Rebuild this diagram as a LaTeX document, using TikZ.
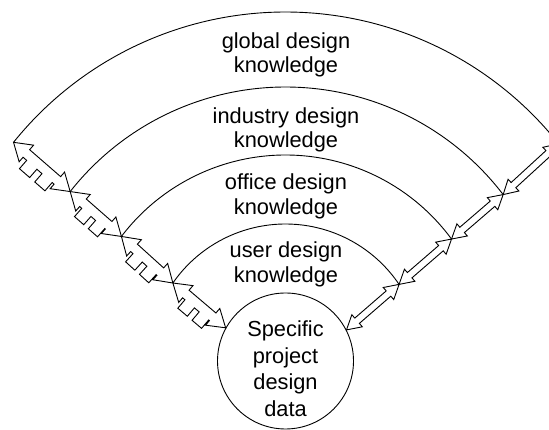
\documentclass[tikz,border=0pt]{standalone}
\usepackage{fontspec}
\setmainfont{Liberation Sans}
\usetikzlibrary{calc}

% point along a connector, pushed sideways (\n1 = its direction)
\newcommand{\fromA}[3]{($(\tikztostart)!#1!(\tikztotarget)+(\n1+#3:#2)$)}
\newcommand{\fromB}[3]{($(\tikztotarget)!#1!(\tikztostart)+(\n1+#3:#2)$)}

\tikzstyle{ring} = [line width=0.9pt]
\tikzstyle{ringtext} = [align=center, inner sep=0pt, font=\fontsize{21.8}{24.3}\selectfont]
\tikzstyle{core} = [circle, draw, line width=0.9pt, minimum size=136pt, inner sep=0pt, align=center, font=\fontsize{21.8}{26.5}\selectfont]
\tikzset{
  dblarrow/.style={draw, fill=white, line width=0.9pt, line join=miter, to path={
    let \p1=($(\tikztotarget)-(\tikztostart)$), \n1={atan2(\y1,\x1)} in
    -- \fromA{14pt}{8pt}{90} -- \fromA{14pt}{3.5pt}{90}
    -- \fromB{14pt}{3.5pt}{90} -- \fromB{14pt}{8pt}{90}
    -- (\tikztotarget)
    -- \fromB{14pt}{8pt}{-90} -- \fromB{14pt}{3.5pt}{-90}
    -- \fromA{14pt}{3.5pt}{-90} -- \fromA{14pt}{8pt}{-90}
    -- cycle}},
  teearrow/.style={draw, fill=white, line width=0.9pt, line join=miter, to path={
    let \p1=($(\tikztotarget)-(\tikztostart)$), \n1={atan2(\y1,\x1)} in
    -- \fromA{17pt}{11pt}{90} -- \fromA{17pt}{5pt}{90}
    -- \fromB{17pt}{5pt}{90} -- \fromB{17pt}{11pt}{90}
    -- (\tikztotarget)
    -- \fromB{17pt}{11pt}{-90} -- \fromB{17pt}{5pt}{-90}
    % two tabs on the lower side
    -- \fromA{0.74}{5pt}{-90} -- \fromA{0.74}{16pt}{-90}
    -- \fromA{0.56}{16pt}{-90} -- \fromA{0.56}{5pt}{-90}
    -- \fromA{0.47}{5pt}{-90} -- \fromA{0.47}{16pt}{-90}
    -- \fromA{0.29}{16pt}{-90} -- \fromA{0.29}{5pt}{-90}
    -- \fromA{17pt}{5pt}{-90} -- \fromA{17pt}{11pt}{-90}
    -- cycle}}
}

\begin{document}
\begin{tikzpicture}[x=1pt, y=1pt]
    \clip (0,0) rectangle (549,430);

    \coordinate (ctr) at (285.5,69);
    \coordinate (gleft)  at ($(ctr)+(141.2:349)$);
    \coordinate (gright) at ($(ctr)+(38.5:349)$);
    \coordinate (ileft)  at ($(ctr)+(141.8:274)$);
    \coordinate (iright) at ($(ctr)+(37.4:274)$);
    \coordinate (oleft)  at ($(ctr)+(142.8:206)$);
    \coordinate (oright) at ($(ctr)+(36.3:206)$);
    \coordinate (uleft)  at ($(ctr)+(145.3:137)$);
    \coordinate (uright) at ($(ctr)+(34:137)$);

    % knowledge rings
    \draw[ring] (gleft) arc[start angle=141.2, end angle=38.5, radius=349];
    \draw[ring] (ileft) arc[start angle=141.8, end angle=37.4, radius=274];
    \draw[ring] (oleft) arc[start angle=142.8, end angle=36.3, radius=206];
    \draw[ring] (uleft) arc[start angle=145.3, end angle=34, radius=137];

    \node[ringtext] (global) at (286,375) {global design\\knowledge};
    \node[ringtext] (industry) at (286,300) {industry design\\knowledge};
    \node[ringtext] (office) at (286,233.5) {office design\\knowledge};
    \node[ringtext] (user) at (286,165.5) {user design\\knowledge};

    \node[core] (data) at (ctr) {\rule{0pt}{31pt}Specific\\project\\design\\data};

    \foreach \a/\b in {gleft/ileft, ileft/oleft, oleft/uleft, uleft/data.151}
        \draw[teearrow] (\a) to (\b);
    \foreach \a/\b in {gright/iright, iright/oright, oright/uright, uright/data.27}
        \draw[dblarrow] (\a) to (\b);
\end{tikzpicture}
\end{document}
